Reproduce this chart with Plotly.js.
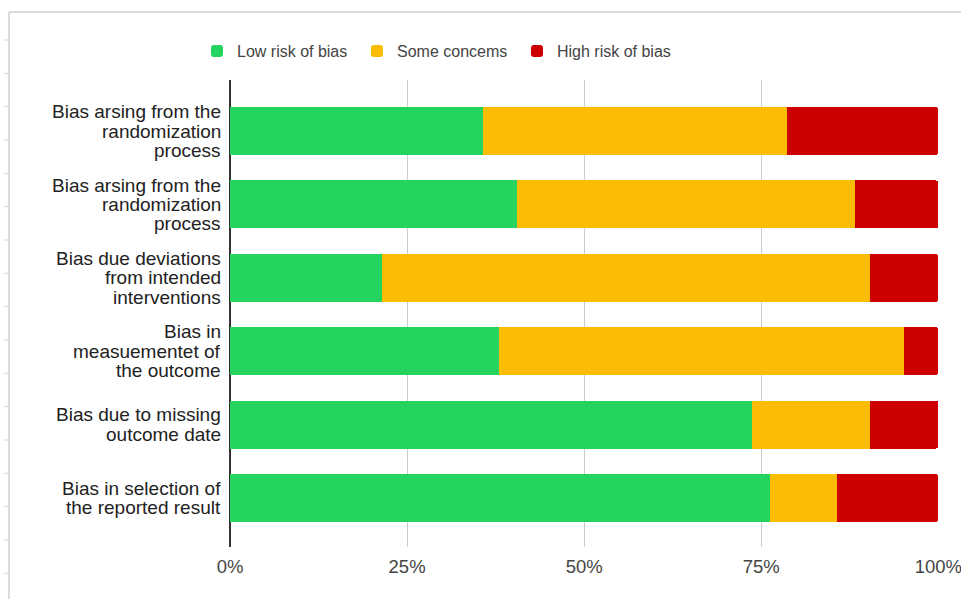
<!DOCTYPE html>
<html>
<head>
<meta charset="utf-8">
<script src="https://cdn.plot.ly/plotly-3.0.1.min.js"></script>
<style>html,body{margin:0;padding:0;background:#fff;}#chart{width:961px;height:599px;}</style>
</head>
<body>
<div id="chart"></div>
<script>
const categories = [
  "Bias arsing from the<br>randomization<br>process",
  "Bias arsing from the<br>randomization<br>process",
  "Bias due deviations<br>from intended<br>interventions",
  "Bias in<br>measuementet of<br>the outcome",
  "Bias due to missing<br>outcome date",
  "Bias in selection of<br>the reported result"
];
const lowRisk = [35.7, 40.5, 21.4, 38.0, 73.7, 76.3];
const someConcerns = [42.9, 47.7, 69.0, 57.2, 16.7, 9.4];
const highRisk = [21.4, 11.8, 9.6, 4.8, 9.6, 14.3];
const seriesNames = ["Low risk of bias", "Some concems", "High risk of bias"];
const seriesColors = ["#25D35F", "#FBBC04", "#CC0000"];
const xTicks = [0, 25, 50, 75, 100];

const positions = categories.map((c, i) => i);
const values = [lowRisk, someConcerns, highRisk];
const traces = values.map((v, i) => ({
  type: "bar",
  orientation: "h",
  name: seriesNames[i],
  y: positions,
  x: v,
  text: categories,
  marker: {color: seriesColors[i]},
  textposition: "none",
  hoverinfo: "name+x"
}));

const L = 230, R = 939, T = 80, B = 547;
const px = p => (p - L) / (R - L);
const py = p => (B - p) / (B - T);

// category labels, one annotation per line, right aligned
const LINE = 19.3;
const annotations = [];
categories.forEach((c, i) => {
  const lines = c.split("<br>");
  const n = lines.length;
  lines.forEach((t, j) => {
    annotations.push({
      xref: "paper", yref: "y",
      x: px(222), y: i,
      xanchor: "right", yanchor: "middle",
      yshift: ((n - 1) / 2 - j) * LINE,
      text: t, showarrow: false,
      font: {size: 19, color: "#222"},
      borderpad: 0
    });
  });
});

const shapes = [
  {type: "line", xref: "paper", yref: "paper", x0: px(9), x1: px(961), y0: py(12), y1: py(12), line: {color: "#b8b8b8", width: 1}},
  {type: "line", xref: "paper", yref: "paper", x0: px(9), x1: px(9), y0: py(12), y1: py(599), line: {color: "#b8b8b8", width: 1}}
];
for (let k = 0; k < 17; k++) {
  const yy = 40 + k * 33.33;
  if (yy > 599) break;
  shapes.push({type: "line", xref: "paper", yref: "paper", x0: px(4), x1: px(9), y0: py(yy), y1: py(yy), line: {color: "#d8d8d8", width: 1}});
}

const layout = {
  width: 961, height: 599,
  margin: {l: L, r: 961 - R, t: T, b: 599 - B, pad: 0},
  barmode: "stack",
  bargap: 0.346,
  barcornerradius: 3,
  paper_bgcolor: "#ffffff",
  plot_bgcolor: "#ffffff",
  font: {family: "Arial, 'Liberation Sans', sans-serif", color: "#444", size: 16},
  showlegend: true,
  legend: {
    orientation: "h",
    x: px(197), xanchor: "left",
    y: py(51), yanchor: "middle",
    font: {size: 16, color: "#444"},
    traceorder: "normal",
    entrywidth: 115, entrywidthmode: "pixels",
    itemwidth: 30
  },
  xaxis: {
    range: [0, 100.1],
    tickvals: xTicks,
    ticktext: xTicks.map(t => t + "%"),
    ticklabeloverflow: "allow",
    ticklabelstandoff: 6,
    showgrid: true,
    gridcolor: "#cccccc",
    gridwidth: 1,
    zeroline: true,
    zerolinecolor: "#333333",
    zerolinewidth: 1.5,
    showline: false,
    ticks: "",
    tickfont: {size: 18.5, color: "#444"},
    fixedrange: true
  },
  yaxis: {
    range: [5.667, -0.695],
    showgrid: false,
    zeroline: false,
    showline: false,
    showticklabels: false,
    ticks: "",
    fixedrange: true
  },
  annotations: annotations,
  shapes: shapes
};

Plotly.newPlot("chart", traces, layout, {displayModeBar: false, staticPlot: true});
</script>
</body>
</html>
